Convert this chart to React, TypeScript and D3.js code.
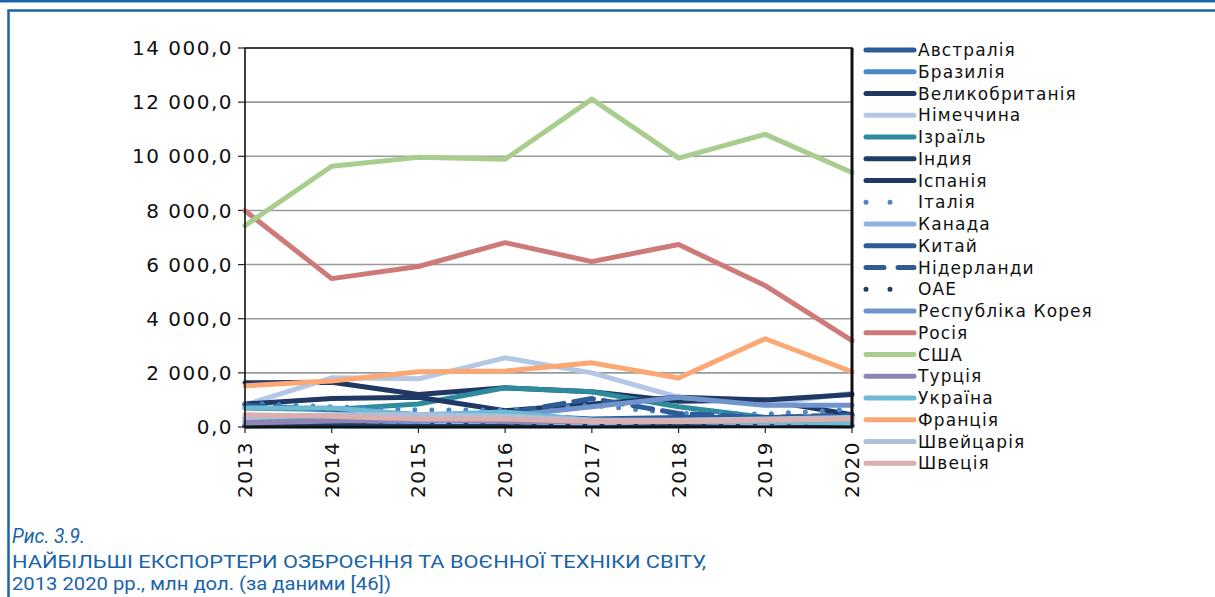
import React from "react";
import * as d3 from "d3";

const years = ["2013", "2014", "2015", "2016", "2017", "2018", "2019", "2020"];
const yTicks = [0, 2000, 4000, 6000, 8000, 10000, 12000, 14000];

const countries = [
  "Австралія", "Бразилія", "Великобританія", "Німеччина", "Ізраїль", "Індия", "Іспанія",
  "Італія", "Канада", "Китай", "Нідерланди", "ОАЕ", "Республіка Корея", "Росія", "США",
  "Турція", "Україна", "Франція", "Швейцарія", "Швеція",
];
const colors = [
  "#2e5c99", "#4a88c9", "#1f3864", "#b4c7e7", "#2e8b9e", "#1f3d66", "#1f3864",
  "#4a88c9", "#8eb4e3", "#2e5c99", "#2e5c99", "#1f3864", "#7094cc", "#cd7a78", "#a9cd8e",
  "#8f85b5", "#6fbad3", "#fba874", "#aebfdc", "#d9b0af",
];
const dashes = [
  "", "", "", "", "", "", "", "0 17", "", "", "20 10", "0 17", "", "", "", "", "", "", "", "",
];
const legendDashes = [
  "", "", "", "", "", "", "", "0 24", "", "", "18 14", "0 24", "", "", "", "", "", "", "", "",
];

const australia = [40, 80, 250, 120, 60, 60, 140, 60];
const brazil = [40, 30, 30, 30, 40, 40, 60, 30];
const uk = [1630, 1650, 1200, 1450, 1300, 950, 1000, 450];
const germany = [815, 1815, 1780, 2555, 2000, 1100, 850, 1250];
const israel = [700, 650, 850, 1450, 1300, 750, 350, 350];
const india = [40, 60, 50, 60, 50, 60, 120, 60];
const spain = [850, 1050, 1100, 600, 850, 1100, 1000, 1200];
const italy = [870, 750, 630, 630, 800, 500, 480, 650];
const canada = [200, 250, 200, 200, 150, 200, 150, 200];
const china = [350, 400, 300, 450, 300, 350, 350, 400];
const netherlands = [800, 650, 450, 500, 1050, 500, 350, 450];
const uae = [60, 80, 90, 100, 120, 150, 150, 150];
const korea = [300, 250, 200, 400, 750, 1100, 800, 800];
const russia = [7990, 5480, 5930, 6810, 6110, 6740, 5220, 3190];
const usa = [7440, 9630, 9960, 9890, 12110, 9930, 10810, 9400];
const turkey = [150, 220, 280, 200, 200, 250, 280, 250];
const ukraine = [700, 700, 450, 550, 250, 200, 200, 150];
const france = [1520, 1700, 2040, 2070, 2370, 1810, 3260, 2040];
const switzerland = [350, 450, 450, 400, 250, 250, 300, 350];
const sweden = [450, 400, 300, 300, 200, 200, 250, 300];

const seriesValues = [
  australia, brazil, uk, germany, israel, india, spain, italy, canada, china,
  netherlands, uae, korea, russia, usa, turkey, ukraine, france, switzerland, sweden,
];

const W = 1215;
const H = 597;
const PL = 245, PR = 852, PT = 48, PB = 427;
const FONT = "'DejaVu Sans', Verdana, sans-serif";
const BLUE = "#1a64a8";

export default function App() {
  const x = d3.scalePoint<string>().domain(years).range([PL, PR]);
  const y = d3.scaleLinear().domain([0, 14000]).range([PB, PT]);
  const line = d3
    .line<number>()
    .x((_, i) => x(years[i]) as number)
    .y((v) => y(v));
  const fmt = (v: number) => d3.format(",.1f")(v).replace(/,/g, " ").replace(".", ",");
  const legY0 = 50;
  const legStep = 21.75;

  return (
    <svg
      width={W}
      height={H}
      style={{ position: "absolute", left: 0, top: 0, display: "block" }}
      fontFamily={FONT}
    >
      <rect x={0} y={0} width={W} height={H} fill="#fff" />
      <line x1={0} x2={W} y1={1.2} y2={1.2} stroke={BLUE} strokeWidth={2.5} />
      <path d={`M8.5,${H} V10.5 H${W}`} fill="none" stroke={BLUE} strokeWidth={2.5} />

      {yTicks.map((t) => (
        <g key={t}>
          {t > 0 && t < 14000 && (
            <line x1={PL} x2={PR} y1={y(t)} y2={y(t)} stroke="#9a9a9a" strokeWidth={1.6} />
          )}
          <line x1={PL - 7} x2={PL} y1={y(t)} y2={y(t)} stroke="#222" strokeWidth={1.2} />
          <text
            x={233}
            y={y(t)}
            dy="0.36em"
            textAnchor="end"
            fontSize={20}
            letterSpacing={1.5}
            fill="#111"
          >
            {fmt(t)}
          </text>
        </g>
      ))}

      {seriesValues.map((vals, i) => (
        <path
          key={countries[i]}
          d={line(vals) || ""}
          fill="none"
          stroke={colors[i]}
          strokeWidth={5}
          strokeLinejoin="round"
          strokeLinecap="round"
          strokeDasharray={dashes[i] || undefined}
        />
      ))}

      <rect x={PL} y={PT} width={PR - PL} height={PB - PT} fill="none" stroke="#111" strokeWidth={1.6} />
      <line x1={PR} x2={PR} y1={PT} y2={PB} stroke="#111" strokeWidth={3} />
      <line x1={PL} x2={PR} y1={PB} y2={PB} stroke="#111" strokeWidth={2.4} />

      {years.map((yr) => (
        <g key={yr}>
          <line x1={x(yr)} x2={x(yr)} y1={PB} y2={PB + 6} stroke="#222" strokeWidth={1.2} />
          <text
            transform={`translate(${(x(yr) as number) + 7},441) rotate(-90)`}
            textAnchor="end"
            fontSize={20}
            letterSpacing={1.5}
            fill="#111"
          >
            {yr}
          </text>
        </g>
      ))}

      {countries.map((c, i) => {
        const ly = legY0 + i * legStep;
        return (
          <g key={c}>
            <line
              x1={866}
              x2={914}
              y1={ly}
              y2={ly}
              stroke={colors[i]}
              strokeWidth={5}
              strokeLinecap="round"
              strokeDasharray={legendDashes[i] || undefined}
            />
            <text x={918} y={ly} dy="0.36em" fontSize={17} letterSpacing={1.1} fill="#111">
              {c}
            </text>
          </g>
        );
      })}

      <text
        x={12}
        y={543}
        fontSize={21}
        fontStyle="italic"
        fill={BLUE}
        fontFamily="'Liberation Sans Narrow', 'Roboto', sans-serif"
        textLength={73}
        lengthAdjust="spacingAndGlyphs"
      >
        Рис. 3.9.
      </text>
      <text
        x={12}
        y={568}
        fontSize={17.5}
        fill={BLUE}
        fontFamily="'Liberation Sans Narrow', 'Roboto', sans-serif"
        textLength={694}
        lengthAdjust="spacingAndGlyphs"
      >
        НАЙБІЛЬШІ ЕКСПОРТЕРИ ОЗБРОЄННЯ ТА ВОЄННОЇ ТЕХНІКИ СВІТУ,
      </text>
      <text
        x={12}
        y={590}
        fontSize={17.5}
        fill={BLUE}
        fontFamily="'Liberation Sans Narrow', 'Roboto', sans-serif"
        textLength={379}
        lengthAdjust="spacingAndGlyphs"
      >
        2013 2020 рр., млн дол. (за даними [46])
      </text>
    </svg>
  );
}
